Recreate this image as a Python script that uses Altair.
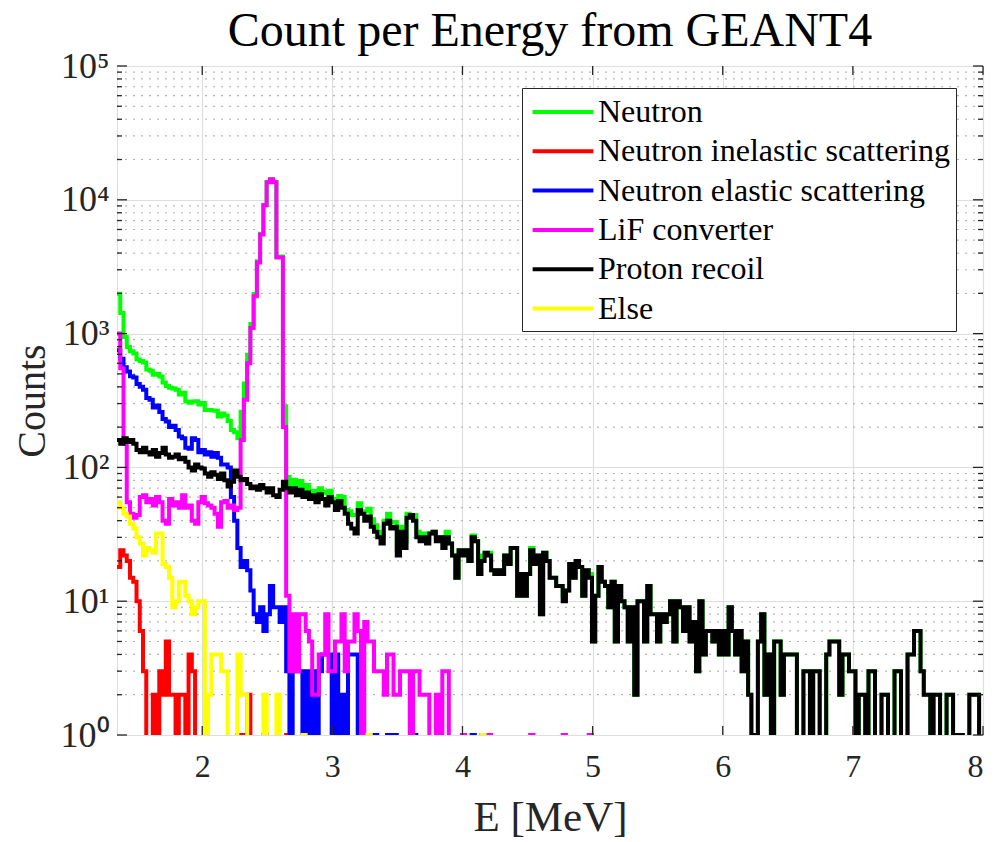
import altair as alt
import pandas as pd

# ---- histogram binning (left edge of first bin, bin width in MeV) ----
BIN_START = 1.345
BIN_WIDTH = 0.025

series_names = ["Neutron", "Neutron inelastic scattering", "Neutron elastic scattering",
                "LiF converter", "Proton recoil", "Else"]
series_colors = ["#00ff00", "#ff0000", "#0000ff", "#ff00ff", "#000000", "#ffff00"]

# ---- counts per bin ----
neutron = [
    1983, 1424, 942, 793, 738, 711, 639, 623, 607, 540,
    527, 492, 502, 478, 431, 406, 393, 388, 380, 351,
    361, 311, 304, 311, 312, 295, 303, 269, 269, 266,
    265, 240, 253, 244, 222, 190, 183, 165, 261, 424,
    694, 1182, 1980, 3475, 5583, 9179, 13573, 14283, 13571, 3771,
    3775, 287, 85, 68, 81, 68, 79, 69, 74, 63,
    67, 57, 70, 66, 64, 67, 58, 57, 61, 60,
    48, 47, 44, 44, 54, 45, 47, 49, 41, 37,
    33, 30, 40, 45, 39, 39, 24, 36, 28, 45,
    44, 44, 33, 30, 32, 29, 32, 33, 30, 30,
    28, 33, 27, 22, 15, 24, 23, 24, 20, 31,
    28, 16, 22, 23, 23, 17, 16, 17, 16, 22,
    19, 25, 25, 11, 16, 11, 16, 25, 19, 22,
    8, 23, 20, 15, 15, 13, 13, 11, 12, 19,
    15, 20, 18, 11, 17, 16, 5, 11, 18, 14,
    13, 9, 14, 5, 13, 10, 9, 5, 9, 2,
    10, 10, 5, 13, 8, 8, 5, 8, 7, 8,
    10, 5, 10, 9, 6, 9, 5, 7, 3, 10,
    4, 6, 6, 5, 6, 4, 6, 4, 9, 6,
    4, 6, 3, 5, 2, 1, 0, 5, 8, 2,
    4, 0, 5, 5, 2, 4, 4, 4, 4, 0,
    0, 3, 3, 0, 3, 3, 0, 0, 4, 5,
    5, 5, 2, 4, 4, 3, 3, 0, 2, 2,
    1, 3, 3, 0, 0, 2, 2, 0, 0, 3,
    3, 0, 0, 4, 4, 6, 6, 3, 2, 2,
    0, 2, 2, 0, 0, 2, 2, 0, 1, 1,
    0, 0, 2, 2, 2, 0,
]
inelastic = [
    18, 24, 22, 20, 15, 14, 10, 6, 3, 0,
    0, 2, 0, 3, 2, 5, 2, 2, 0, 2,
    2, 0, 4, 3, 0, 0, 0, 0, 0, 0,
    0, 0, 0, 0, 0, 0, 0, 1, 1, 0,
    2, 0, 0, 0, 0, 1, 0, 0, 0, 0,
    0, 0, 1, 0,
]
elastic = [
    750, 650, 560, 520, 480, 470, 420, 400, 380, 330,
    320, 280, 290, 260, 230, 220, 200, 205, 190, 170,
    165, 140, 138, 165, 160, 130, 135, 125, 130, 120,
    128, 118, 105, 105, 100, 60, 40, 25, 18, 20,
    17, 12, 8, 7, 9, 6, 8, 13, 9, 9,
    7, 9, 3, 0, 3, 3, 3, 0, 3, 0,
    3, 0, 3, 4, 4, 4, 0, 4, 0, 2,
    0, 4, 4, 4, 0, 0, 0, 0, 0, 1,
    0, 0, 0, 1, 0, 1, 0, 0, 0, 0,
    0, 1, 0, 0, 0, 0, 0, 0, 0, 0,
    0, 0, 0, 0, 0, 0, 0, 0, 0, 1,
    0, 0, 1, 0,
]
lif = [
    1000, 550, 150, 55, 45, 42, 44, 60, 62, 55,
    58, 52, 60, 55, 40, 38, 58, 52, 55, 50,
    62, 50, 52, 40, 38, 55, 60, 54, 52, 50,
    45, 36, 55, 56, 50, 52, 48, 50, 160, 320,
    600, 1100, 1900, 3400, 5500, 9100, 13500, 14200, 13500, 3700,
    3700, 200, 11, 3, 8, 3, 8, 8, 6, 5,
    2, 2, 4, 4, 8, 3, 3, 5, 5, 8,
    3, 5, 5, 8, 6, 0, 7, 5, 5, 3,
    3, 3, 2, 4, 4, 2, 2, 3, 3, 3,
    0, 3, 3, 2, 2, 2, 0, 0, 2, 0,
    3, 3, 0, 0, 0, 0, 1, 0, 0, 0,
    0, 0, 0, 0, 1, 0, 0, 0, 0, 0,
    0, 0, 0, 0, 0, 0, 0, 1, 0, 0,
    0, 0, 0, 0, 0, 0, 0, 1, 0, 0,
    0, 0, 0, 0, 0, 1, 0,
]
proton = [
    160, 150, 165, 155, 160, 150, 135, 130, 140, 130,
    125, 135, 120, 128, 140, 125, 118, 120, 125, 115,
    118, 110, 100, 95, 105, 100, 98, 90, 85, 92,
    88, 82, 90, 80, 72, 78, 95, 85, 80, 82,
    75, 70, 72, 68, 74, 70, 65, 70, 62, 60,
    68, 78, 70, 65, 70, 62, 68, 60, 65, 58,
    62, 55, 63, 58, 52, 60, 55, 48, 56, 50,
    45, 38, 35, 32, 48, 45, 40, 43, 36, 33,
    30, 27, 38, 40, 35, 36, 22, 33, 25, 42,
    44, 40, 30, 28, 30, 27, 32, 33, 28, 30,
    25, 30, 27, 22, 15, 24, 22, 24, 20, 30,
    28, 16, 20, 23, 22, 17, 16, 17, 16, 22,
    19, 25, 25, 11, 16, 11, 16, 24, 19, 22,
    8, 23, 20, 15, 15, 13, 13, 10, 12, 19,
    15, 20, 18, 11, 17, 15, 5, 11, 18, 14,
    13, 9, 14, 5, 13, 10, 9, 5, 9, 2,
    10, 10, 5, 13, 8, 8, 5, 8, 7, 8,
    10, 5, 10, 9, 6, 9, 5, 7, 3, 10,
    4, 6, 6, 5, 6, 4, 6, 4, 9, 6,
    4, 6, 3, 5, 2, 1, 0, 5, 8, 2,
    4, 0, 5, 5, 2, 4, 4, 4, 4, 0,
    0, 3, 3, 0, 3, 3, 0, 0, 4, 5,
    5, 5, 2, 4, 4, 3, 3, 0, 2, 2,
    0, 3, 3, 0, 0, 2, 2, 0, 0, 3,
    3, 0, 0, 4, 4, 6, 6, 3, 2, 2,
    0, 2, 2, 0, 0, 2, 2, 0, 1, 1,
    0, 0, 2, 2, 2, 0,
]
other = [
    55, 50, 45, 43, 38, 35, 30, 27, 22, 25,
    24, 23, 32, 32, 19, 18, 15, 9, 10, 14,
    14, 11, 10, 8, 9, 10, 10, 0, 2, 4,
    4, 4, 3, 3, 0, 0, 0, 4, 2, 2,
    0, 0, 0, 0, 0, 2, 0, 0, 0, 2,
    0, 0, 0, 0, 0, 0, 0, 1, 0, 0,
    0, 0, 0, 0, 0, 0, 0, 0, 0, 0,
    0, 0, 0, 0, 0, 0, 0, 1, 0, 0,
    0, 0, 0, 0, 0, 0, 0, 0, 0, 0,
    0, 0, 0, 0, 0, 0, 0, 0, 0, 0,
    0, 0, 0, 0, 0, 0, 0, 0, 0, 0,
    0, 0, 1, 0,
]

x_ticks = [2, 3, 4, 5, 6, 7, 8]
y_ticks = [1, 10, 100, 1000, 10000, 100000]
y_tick_labels = ["10⁰", "10¹", "10²", "10³", "10⁴", "10⁵"]
y_minor = [m * 10 ** k for k in range(5) for m in range(2, 10)]

X_DOMAIN = [1.345, 8.0]
Y_DOMAIN = [1, 100000]
W, H = 866, 669
FONT = "Liberation Serif"
AXC = "#262626"

# ---- long table for the stair lines ----
rows = []
for name, counts in zip(series_names, [neutron, inelastic, elastic, lif, proton, other]):
    for i, c in enumerate(counts):
        rows.append({"series": name, "E": round(BIN_START + i * BIN_WIDTH, 4), "count": c})
    rows.append({"series": name, "E": round(BIN_START + len(counts) * BIN_WIDTH, 4), "count": counts[-1]})
df = pd.DataFrame(rows)

xscale = alt.Scale(domain=X_DOMAIN, nice=False, zero=False)
yscale = alt.Scale(type="log", domain=Y_DOMAIN, nice=False)

label_expr = " : ".join(
    f"datum.value == {v} ? '{t}'" for v, t in zip(y_ticks, y_tick_labels)
) + " : ''"

x_axis = alt.Axis(values=x_ticks, format="d", title="E [MeV]",
                  labelFont=FONT, labelFontSize=32, labelColor=AXC, labelPadding=16,
                  ticks=False, tickSize=0, domain=False,
                  grid=True, gridColor="#dedede", gridWidth=1.2,
                  titleFont=FONT, titleFontSize=43, titleFontWeight="normal",
                  titleColor=AXC, titlePadding=14)
y_axis = alt.Axis(values=y_ticks, labelExpr=label_expr, title="Counts",
                  labelFont=FONT, labelFontSize=36, labelColor=AXC, labelPadding=8,
                  ticks=False, tickSize=0, domain=False,
                  grid=True, gridColor="#dedede", gridWidth=1.2,
                  titleFont=FONT, titleFontSize=40, titleFontWeight="normal",
                  titleColor=AXC, titlePadding=8)

# minor dotted grid
minor_df = pd.DataFrame({"v": y_minor})
minor_grid = alt.Chart(minor_df).mark_rule(color="#b5b5b5", strokeWidth=1.2, strokeDash=[2, 6]).encode(
    y=alt.Y("v:Q", scale=yscale, axis=y_axis),
    x=alt.value(0), x2=alt.value(W),
)

legend = alt.Legend(
    title=None, orient="none", legendX=405, legendY=22,
    labelFont=FONT, labelFontSize=32, labelColor="black", labelLimit=600,
    symbolType="M-1.9,0L1.9,0", symbolSize=1024, symbolStrokeWidth=4,
    symbolOffset=17, labelOffset=17, rowPadding=5.3, padding=6,
    strokeColor=AXC, fillColor="white",
)

line_layers = []
for k, name in enumerate(series_names):
    line_layers.append(
        alt.Chart(df).transform_filter(alt.datum.series == name)
        .transform_calculate(plotted="max(datum.count, 0.2)")
        .mark_line(interpolate="step-after", strokeWidth=4, clip=True)
        .encode(
            x=alt.X("E:Q", scale=xscale, axis=x_axis),
            y=alt.Y("plotted:Q", scale=yscale, axis=y_axis),
            color=alt.Color("series:N", scale=alt.Scale(domain=series_names, range=series_colors),
                            legend=legend),
        )
    )

major_df = pd.DataFrame({"v": y_ticks})
xt_df = pd.DataFrame({"v": x_ticks})

def ytick(data, x1, x2):
    return alt.Chart(data).mark_rule(color=AXC, strokeWidth=1.3).encode(
        y=alt.Y("v:Q", scale=yscale, axis=y_axis), x=alt.value(x1), x2=alt.value(x2))

def xtick(y1, y2):
    return alt.Chart(xt_df).mark_rule(color=AXC, strokeWidth=1.3).encode(
        x=alt.X("v:Q", scale=xscale, axis=x_axis), y=alt.value(y1), y2=alt.value(y2))

ticks = [
    ytick(major_df, 0, 10), ytick(major_df, W - 10, W),
    ytick(minor_df, 0, 5), ytick(minor_df, W - 5, W),
    xtick(H, H - 9), xtick(0, 9),
]

chart = alt.layer(minor_grid, *line_layers, *ticks).properties(
    width=W, height=H,
    autosize=alt.AutoSizeParams(type="none"),
    padding={"left": 117, "top": 66, "right": 11, "bottom": 107},
    title=alt.TitleParams("Count per Energy from GEANT4", font=FONT, fontSize=48,
                          fontWeight="normal", color="black", offset=-8, anchor="middle"),
).configure_view(stroke=AXC, strokeWidth=1.8).configure(background="white")

chart.save("out.html", embed_options={"renderer": "svg", "actions": False})
